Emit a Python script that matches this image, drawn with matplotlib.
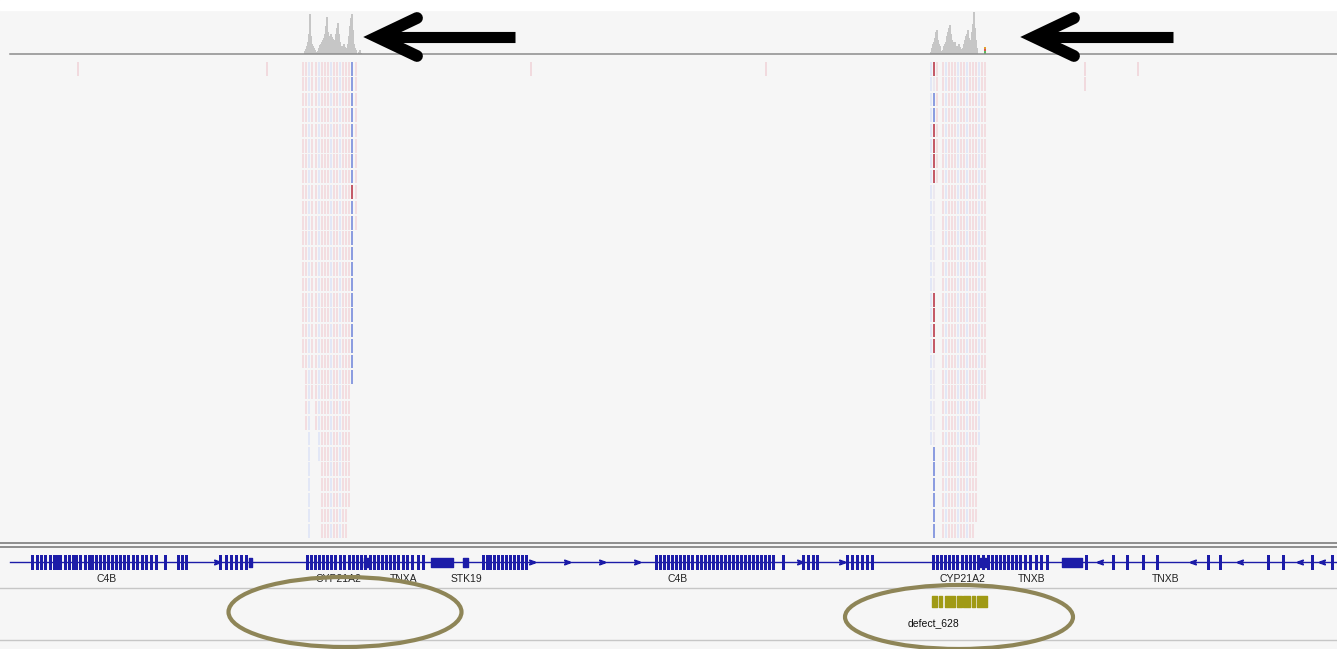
import matplotlib
matplotlib.use("Agg")
import matplotlib.pyplot as plt
from matplotlib.patches import Ellipse, Rectangle

# coverage track (screen x of first bin, then per-pixel bar heights)
cov_left_start = 304
cov_left = [0, 3, 5, 8, 12, 20, 40, 18, 10, 8, 6, 4, 2, 0, 3, 6, 9, 10, 12, 14, 16, 20, 28, 37, 22, 16,
            18, 20, 17, 15, 13, 14, 20, 26, 31, 20, 12, 8, 6, 8, 10, 7, 5, 6, 10, 18, 28, 36, 40, 24, 10,
            6, 4, 0, 0, 2, 4, 1]
cov_right_start = 931
cov_right = [2, 6, 10, 12, 16, 22, 24, 14, 10, 8, 3, 0, 4, 8, 10, 12, 18, 22, 26, 29, 20, 14, 12, 10,
             12, 8, 6, 8, 10, 7, 5, 4, 6, 10, 14, 18, 20, 24, 16, 12, 14, 22, 30, 42, 26, 14, 6, 0, 0, 0]
allele_x = [985, 985, 985]
allele_h = [3, 2, 2]
allele_c = ["#5cb85c", "#d9534f", "#e0a030"]

# read rows (columns of mismatch ticks)
n_rows = 31
left_x = [303, 306, 309, 312, 316, 319, 322, 325, 328, 331, 334, 337, 340, 343, 346, 349, 352, 356]
left_len = [20, 24, 31, 22, 24, 26, 31, 31, 31, 31, 31, 31, 31, 31, 31, 29, 21, 11]
left_tone = "rrbrrbrrrbrrbrrrBr"
right_x = [931, 934, 937, 943, 946, 949, 952, 955, 958, 961, 964, 967, 970, 973, 976, 979, 982, 985]
right_len = [25, 31, 8, 31, 31, 31, 31, 31, 31, 31, 31, 31, 31, 31, 30, 25, 22, 22]
right_tone = "bprrbrrrbrrbrrrbrr"
strong_red = {352: [8], 934: [0, 4, 5, 6, 7, 15, 16, 17, 18]}
strong_blue = {352: [0, 1, 2, 3, 4, 5, 6, 7, 9, 10, 11, 12, 13, 14, 15, 16, 17, 18, 19, 20],
               934: [2, 3, 25, 26, 27, 28, 29, 30]}
stray_x = [78, 267, 531, 766, 1085, 1085, 1138]
stray_row = [0, 0, 0, 0, 0, 1, 0]

# gene track
exons = [32, 37, 41, 45, 50, 54, 57, 60, 65, 69, 73, 76, 80, 85, 89, 92, 96, 100, 104, 108, 112, 116,
         120, 124, 128, 133, 137, 142, 146, 151, 156, 165, 178, 182, 186, 220, 226, 231, 236, 241, 246,
         307, 311, 315, 319, 323, 327, 331, 335, 340, 344, 349, 353, 357, 361, 365, 370, 374, 378, 382,
         386, 390, 394, 398, 403, 407, 412, 418, 423,
         483, 487, 490, 494, 498, 502, 506, 510, 514, 518, 522, 526,
         656, 660, 664, 668, 672, 676, 680, 684, 688, 692, 697, 701, 705, 709, 713, 717, 721, 725, 729,
         733, 737, 741, 745, 749, 753, 757, 761, 765, 769, 773, 783, 803, 808, 813, 817,
         847, 852, 857, 862, 867, 872,
         933, 937, 941, 945, 949, 953, 957, 962, 966, 970, 974, 978, 983, 988, 992, 996, 1000, 1004,
         1008, 1012, 1016, 1020, 1025, 1030, 1036, 1041, 1047, 1086, 1113, 1127, 1143, 1157, 1208,
         1220, 1268, 1283, 1312, 1332]
utr_blocks = [(431, 22), (463, 5), (1062, 20), (364, 6), (980, 6), (249, 3)]
strand_fwd = [217, 532, 567, 602, 637, 800, 842]
strand_rev = [1100, 1193, 1240, 1300, 1322]
gene_labels = ["C4B", "CYP21A2", "TNXA", "STK19", "C4B", "CYP21A2", "TNXB", "TNXB"]
gene_label_x = [107, 338, 404, 466, 678, 962, 1032, 1166]

# annotation track
defect_blocks = [(932, 5), (939, 3), (945, 10), (957, 5), (963, 7), (972, 3), (977, 10)]
defect_label = "defect_628"

BLUE = "#1c1ca8"
fig = plt.figure(figsize=(13.37, 6.49), dpi=100, facecolor="#f6f6f6")
ax = fig.add_axes([0, 0, 1, 1])
ax.set_xlim(0, 1337)
ax.set_ylim(649, 0)
ax.axis("off")
ax.add_patch(Rectangle((0, 0), 1337, 10, color="white", zorder=0))

# coverage
ax.bar([cov_left_start + i for i in range(len(cov_left))], [-h for h in cov_left],
       bottom=54, width=1.3, color="#c6c6c6", zorder=2)
ax.bar([cov_right_start + i for i in range(len(cov_right))], [-h for h in cov_right],
       bottom=54, width=1.3, color="#c6c6c6", zorder=2)
bot = 54
for x, h, c in zip(allele_x, allele_h, allele_c):
    ax.bar(x, -h, bottom=bot, width=2, color=c, zorder=3)
    bot -= h
ax.axhline(54, xmin=10 / 1337, color="#8c8c8c", lw=1.1, zorder=3)

# arrows
for tip, end in [(377, 515), (1034, 1173)]:
    ax.plot([tip + 6, end], [37, 37], color="black", lw=8, solid_capstyle="butt", zorder=5)
    ax.plot([tip + 40, tip, tip + 40], [18, 37, 56], color="black", lw=8.5,
            solid_capstyle="round", solid_joinstyle="miter", zorder=5)

# read cells
tone_col = {"r": "#f3dde0", "b": "#e2e7f6", "p": "#ece8ef", "B": "#e2e7f6"}
row_top, pitch, cell_h = 62, 15.4, 13.5
for xs, lens, tones in [(left_x, left_len, left_tone), (right_x, right_len, right_tone)]:
    for x, n, t in zip(xs, lens, tones):
        for r in range(n):
            c = tone_col[t]
            if r in strong_red.get(x, []):
                c = "#c45a68"
            elif r in strong_blue.get(x, []):
                c = "#8c9de0"
            ax.add_patch(Rectangle((x - 1, row_top + r * pitch), 2.0, cell_h, color=c, lw=0, zorder=2))
for x, r in zip(stray_x, stray_row):
    ax.add_patch(Rectangle((x - 0.6, row_top + r * pitch), 1.3, cell_h, color="#f1dade", lw=0, zorder=2))

ax.axhline(543, color="#7c7c7c", lw=1.2, zorder=3)
ax.axhline(547, color="#7c7c7c", lw=1.2, zorder=3)
ax.axhline(588, color="#c6c6c6", lw=1.0, zorder=1)
ax.axhline(640, color="#c6c6c6", lw=1.0, zorder=1)

# genes
ax.plot([10, 1337], [562, 562], color=BLUE, lw=1.0, zorder=3)
ax.bar(exons, 15, bottom=554.5, width=3.0, color=BLUE, zorder=4)
ax.broken_barh(utr_blocks, (557.5, 9), color=BLUE, zorder=4)
ax.plot(strand_fwd, [562] * len(strand_fwd), ls="none", marker=r"$>$", ms=4, color=BLUE, zorder=4)
ax.plot(strand_rev, [562] * len(strand_rev), ls="none", marker=r"$<$", ms=4, color=BLUE, zorder=4)
for lab, x in zip(gene_labels, gene_label_x):
    ax.text(x, 579, lab, ha="center", va="center", fontsize=7.5, color="#222222",
            family="Liberation Sans", zorder=4)

# annotation
ax.broken_barh(defect_blocks, (596, 11), color="#a09a14", zorder=4)
ax.text(933, 623, defect_label, ha="center", va="center", fontsize=7.5, color="#111111",
        family="Liberation Sans", zorder=4)

ax.add_patch(Ellipse((345, 612), 233, 70, fill=False, ec="#8e8557", lw=3.0, zorder=6))
ax.add_patch(Ellipse((959, 617), 228, 64, fill=False, ec="#8e8557", lw=3.0, zorder=6))

fig.savefig("out.png", dpi=100, facecolor=fig.get_facecolor())
